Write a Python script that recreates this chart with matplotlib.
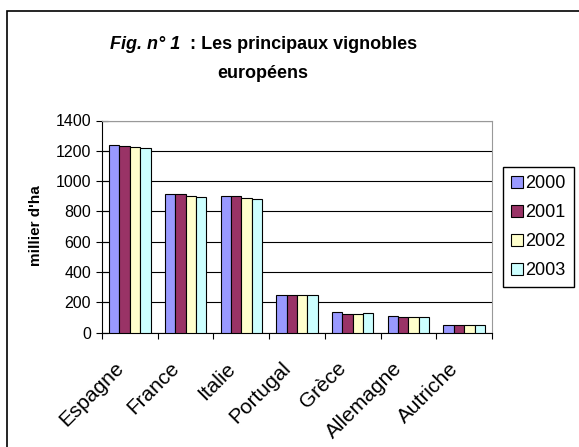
import numpy as np
import matplotlib.pyplot as plt
import matplotlib.transforms as mtransforms
from matplotlib.patches import Rectangle, Patch

plt.rcParams['font.family'] = ['Liberation Sans', 'DejaVu Sans']

# Data
pays = ['Espagne', 'France', 'Italie', 'Portugal', 'Grèce', 'Allemagne', 'Autriche']
annees = ['2000', '2001', '2002', '2003']
v2000 = [1240, 915, 905, 250, 134, 108, 52]
v2001 = [1235, 912, 905, 250, 123, 105, 50]
v2002 = [1228, 905, 888, 250, 123, 105, 49]
v2003 = [1220, 898, 883, 250, 127, 103, 50]
couleurs = ['#9999ff', '#993366', '#ffffcc', '#ccffff']

series = [v2000, v2001, v2002, v2003]

fig = plt.figure(figsize=(5.79, 4.47), dpi=100)
ax = fig.add_axes([102 / 579, 1 - 332.7 / 447, 390 / 579, 212.2 / 447])

# Outer chart frame
fig.patches.append(Rectangle((7 / 579, -0.1), 1.2, 1.1 - 11 / 447,
                             transform=fig.transFigure, fill=False,
                             edgecolor='black', linewidth=1.2))

x = np.arange(len(pays))
w = 0.186
for i in range(4):
    ax.bar(x - 1.5 * w + i * w, series[i], width=w, color=couleurs[i],
           edgecolor='black', linewidth=0.8, zorder=3)

ax.set_xlim(-0.5, len(pays) - 0.5)
ax.set_ylim(0, 1400)
ax.set_yticks(range(0, 1401, 200))
ax.yaxis.grid(True, color='black', linewidth=0.8)
ax.set_axisbelow(True)
ax.set_xticks(np.arange(len(pays) + 1) - 0.5)
ax.set_xticklabels([])
ax.tick_params(axis='x', length=4, direction='out', color='black')
ax.tick_params(axis='y', length=8, direction='inout', labelsize=11.5, pad=4)

# category labels, rotated
decal = mtransforms.ScaledTranslation(-16 / 100, -26 / 100, fig.dpi_scale_trans)
trans = ax.get_xaxis_transform() + decal
for i, p in enumerate(pays):
    ax.text(i, 0, p, transform=trans, rotation=45, ha='right', va='top',
            rotation_mode='anchor', fontsize=15)

ax.spines['top'].set_color('#999999')
ax.spines['right'].set_color('#999999')
ax.spines['left'].set_linewidth(0.8)
ax.spines['bottom'].set_linewidth(0.8)

fig.text(36 / 579, 1 - 226 / 447, "millier d'ha", rotation=90,
         fontsize=11, fontweight='bold', ha='center', va='center')

# Title
t1 = fig.text(110 / 579, 1 - 49 / 447, 'Fig. n° 1', fontsize=13,
              fontweight='bold', style='italic', ha='left', va='baseline')
ax.annotate('  : Les principaux vignobles', xy=(1, 0), xycoords=t1,
            fontsize=13, fontweight='bold', ha='left', va='bottom',
            annotation_clip=False)
fig.text(263 / 579, 1 - 78 / 447, 'européens', fontsize=13,
         fontweight='bold', ha='center', va='baseline')

handles = [Patch(facecolor=couleurs[i], edgecolor='black', linewidth=0.8,
                 label=annees[i]) for i in range(4)]
fig.legend(handles=handles, loc='upper left',
           bbox_to_anchor=(503 / 579, 1 - 167 / 447), fontsize=13,
           frameon=True, fancybox=False, edgecolor='black', framealpha=1,
           handlelength=0.65, handleheight=0.65, handletextpad=0.15,
           borderpad=0.45, labelspacing=0.66, borderaxespad=0)

fig.savefig('out.png', dpi=100)
